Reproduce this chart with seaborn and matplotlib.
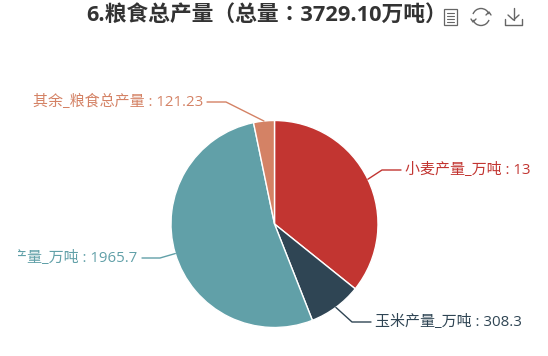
import matplotlib
matplotlib.use('Agg')
import matplotlib.pyplot as plt
from matplotlib.patches import Rectangle, Arc
import numpy as np
import seaborn as sns

sns.set_theme(style="white")
plt.rcParams['font.family'] = ['Open Sans', 'Noto Sans CJK SC', 'DejaVu Sans']

title = "6.粮食总产量（总量：3729.10万吨）"
names = ["小麦产量_万吨", "玉米产量_万吨", "稻谷产量_万吨", "其余_粮食总产量"]
values = [1333.87, 308.3, 1965.7, 121.23]
value_labels = ["1333.87", "308.3", "1965.7", "121.23"]
colors = sns.color_palette(["#c23531", "#2f4554", "#61a0a8", "#d48265"])

W, H = 548, 356
fig = plt.figure(figsize=(W / 100, H / 100), dpi=100)

# 파이 영역
cx, cy, r = 274.5, 224, 103.5
ax = fig.add_axes([(cx - r) / W, 1 - (cy + r) / H, 2 * r / W, 2 * r / H])
ax.pie(values, colors=colors, startangle=90, counterclock=False, radius=1)
ax.set_xlim(-1, 1)
ax.set_ylim(-1, 1)

# 글자, 선, 아이콘은 픽셀 좌표로
over = fig.add_axes([0, 0, 1, 1])
over.set_xlim(0, W)
over.set_ylim(H, 0)
over.axis('off')
clip = Rectangle((18, 0), 513, H, transform=over.transData, fill=False, lw=0)
over.add_patch(clip)

over.text(267, 15, title, ha='center', va='center', fontsize=15.7,
          fontweight='bold', color='#333333',
          family=['Open Sans', 'Noto Sans CJK TC', 'DejaVu Sans'])

# (꺾임 x, 꺾임 y, 끝 x, 글자 x, 정렬)
label_pos = [
    (382, 170, 401, 405, 'left'),
    (352, 322, 371, 375, 'left'),
    (160, 258, 142, 137, 'right'),
    (226, 102, 207, 203, 'right'),
]

mids = np.cumsum(values) - np.array(values) / 2
angles = mids / sum(values) * 2 * np.pi
for i, (bx, by, ex, tx, ha) in enumerate(label_pos):
    sx = cx + r * np.sin(angles[i])
    sy = cy - r * np.cos(angles[i])
    over.plot([sx, bx, ex], [sy, by, by], color=colors[i], lw=1)
    t = over.text(tx, by, f"{names[i]} : {value_labels[i]}", ha=ha, va='center',
                  fontsize=10.8, color=colors[i])
    t.set_clip_path(clip)
    t.set_clip_on(True)

# 툴박스 아이콘
gray = '#666666'
over.add_patch(Rectangle((444, 9), 13, 16, fill=False, ec=gray, lw=0.9))
for y in (13, 16, 19, 22):
    over.plot([447, 454], [y, y], color=gray, lw=0.8)
over.add_patch(Arc((481, 17), 17, 17, theta1=200, theta2=340, ec=gray, lw=1))
over.add_patch(Arc((481, 17), 17, 17, theta1=20, theta2=160, ec=gray, lw=1))
over.plot([471, 473, 476], [19, 22, 19], color=gray, lw=1)
over.plot([486, 489, 491], [15, 12, 15], color=gray, lw=1)
over.plot([513.5, 513.5], [8, 20], color=gray, lw=1)
over.plot([508, 513.5, 519], [15, 20, 15], color=gray, lw=1)
over.plot([505, 505, 522, 522], [19, 25, 25, 19], color=gray, lw=1)

fig.savefig('out.png', dpi=100)
